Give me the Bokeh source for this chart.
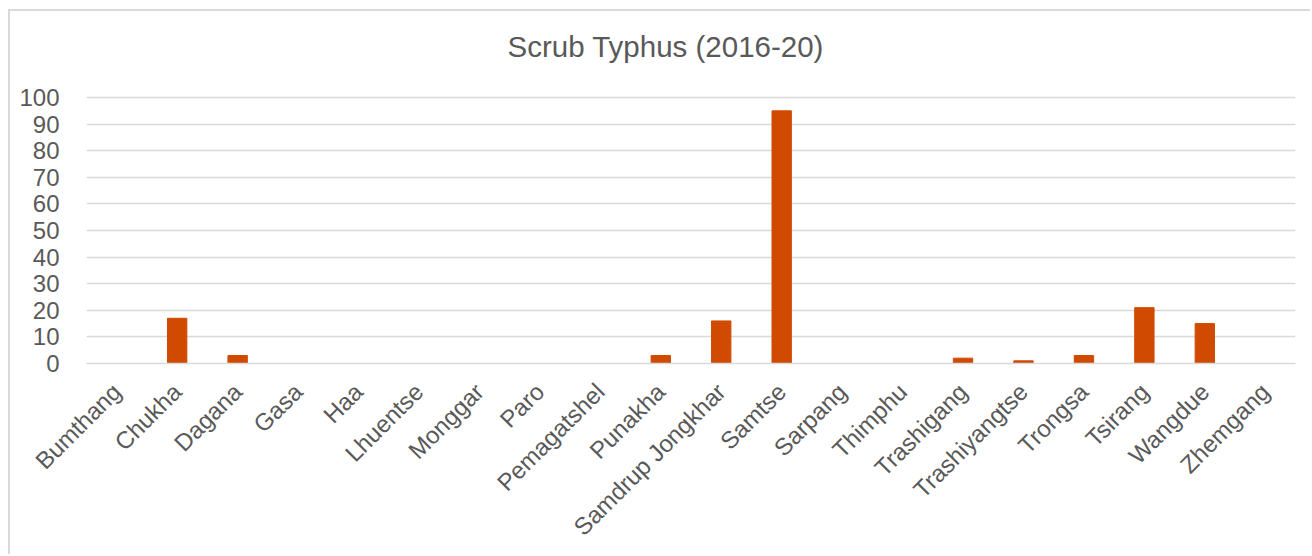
import math
from bokeh.plotting import figure
from bokeh.models import Range1d, FactorRange, Title
from bokeh.embed import file_html
from bokeh.resources import INLINE

categories = ["Bumthang", "Chukha", "Dagana", "Gasa", "Haa", "Lhuentse", "Monggar",
              "Paro", "Pemagatshel", "Punakha", "Samdrup Jongkhar", "Samtse", "Sarpang",
              "Thimphu", "Trashigang", "Trashiyangtse", "Trongsa", "Tsirang", "Wangdue",
              "Zhemgang"]
cases = [0, 17, 3, 0, 0, 0, 0, 0, 0, 3, 16, 95, 0, 0, 2, 1, 3, 21, 15, 0]
y_ticks = [0, 10, 20, 30, 40, 50, 60, 70, 80, 90, 100]
title_text = "Scrub Typhus (2016-20)"

FONT = "Liberation Sans"
GREY = "#595959"
GRID = "#D9D9D9"
BAR = "#D04A02"

# y range extends a little above 100 so that the title can sit higher
p = figure(width=1302, height=545, output_backend="svg", toolbar_location=None,
           x_range=FactorRange(factors=categories, range_padding=0),
           y_range=Range1d(0, 109.4),
           min_border_left=76, min_border_right=17, min_border_top=61,
           min_border_bottom=193)
p.styles = {"border-top": "2px solid #D9D9D9", "border-left": "2px solid #D9D9D9",
            "margin-left": "8px", "margin-top": "9px"}

p.title = Title(text=title_text, align="left", text_font=FONT,
                text_font_size="29.5px", text_font_style="normal", text_color=GREY,
                standoff=20, offset=421)

p.vbar(x=categories, top=cases, width=0.32, fill_color=BAR, line_color=BAR, line_width=1)

p.outline_line_color = None
p.background_fill_color = "white"
p.border_fill_color = "white"

p.xgrid.grid_line_color = None
p.ygrid.grid_line_color = GRID
p.ygrid.grid_line_width = 1.5

p.yaxis.ticker = y_ticks
p.yaxis.axis_line_color = None
p.yaxis.major_tick_line_color = None
p.yaxis.minor_tick_line_color = None
p.yaxis.major_label_text_font = FONT
p.yaxis.major_label_text_font_size = "24px"
p.yaxis.major_label_text_color = GREY
p.yaxis.major_label_standoff = 21

p.xaxis.axis_line_color = GRID
p.xaxis.axis_line_width = 1.5
p.xaxis.major_tick_line_color = None
p.xaxis.minor_tick_line_color = None
p.xaxis.major_label_text_font = FONT
p.xaxis.major_label_text_font_size = "24px"
p.xaxis.major_label_text_color = GREY
p.xaxis.major_label_orientation = math.pi / 4
p.xaxis.major_label_standoff = 18

open("out.html", "w").write(file_html(p, INLINE))
